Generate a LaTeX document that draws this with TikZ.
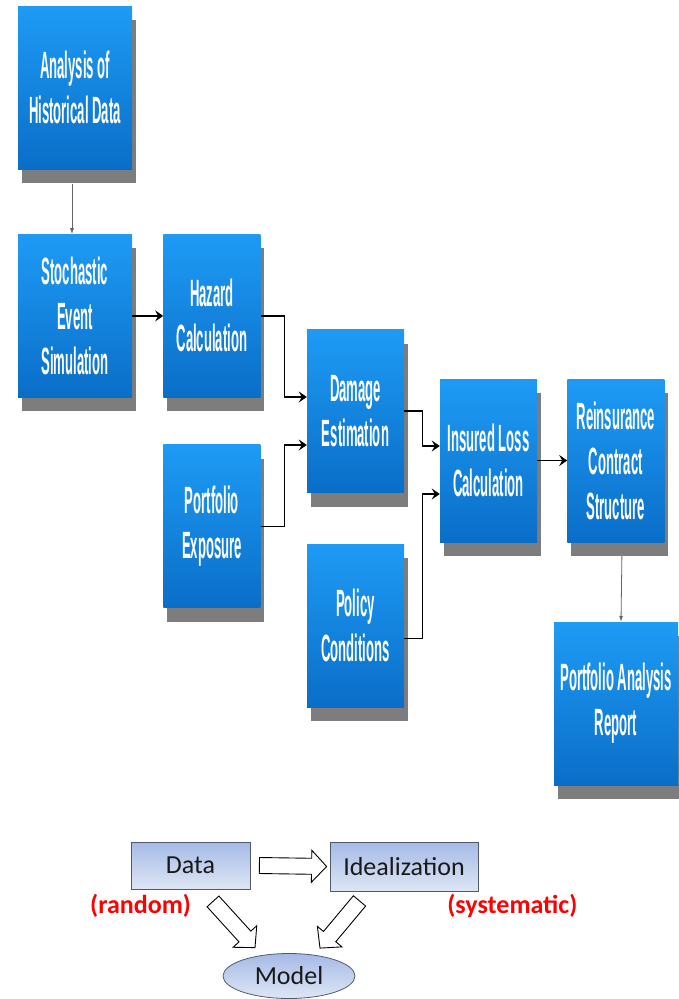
\documentclass[tikz,border=0pt]{standalone}
\usepackage{fontspec}
\setmainfont{Carlito}
\newfontfamily\narrowfont[FakeStretch=0.345]{Liberation Sans}
\usetikzlibrary{calc}
\usetikzlibrary{positioning}
\usetikzlibrary{shadows}
\usetikzlibrary{shapes.geometric}
\usetikzlibrary{arrows.meta}

\definecolor{boxtop}{RGB}{30,155,245}
\definecolor{boxbot}{RGB}{10,110,200}
\definecolor{shadowgray}{RGB}{125,125,125}
\definecolor{paletop}{RGB}{165,186,230}
\definecolor{palebot}{RGB}{222,230,245}
\definecolor{paleline}{RGB}{80,90,110}

\tikzset{
  stage/.style={rectangle,minimum width=97pt,minimum height=163pt,inner sep=0pt,
    top color=boxtop,bottom color=boxbot,text=white,align=center,
    font=\narrowfont\bfseries\fontsize{38}{45}\selectfont,
    drop shadow={shadow xshift=4pt,shadow yshift=-14pt,fill=shadowgray,opacity=1}},
  wide stage/.style={stage,minimum width=114pt},
  flow/.style={draw=black,line width=1.2pt,-{Stealth[length=8pt,width=11pt,inset=3pt]}},
  thin flow/.style={draw=black!60,line width=0.8pt,-{Latex[length=6pt,width=4pt]}},
  pale box/.style={rectangle,draw=paleline,line width=0.8pt,inner sep=0pt,
    top color=paletop,bottom color=palebot,text=black!90,font=\fontsize{26}{30}\selectfont},
  note/.style={text=red,font=\bfseries\fontsize{26}{30}\selectfont},
  hollow/.style={draw=black,line width=0.9pt,fill=white,
    to path={let \p1=(\tikztostart),\p2=(\tikztotarget),
      \n1={atan2(\y2-\y1,\x2-\x1)},\p3=($(\p2)!15pt!(\p1)$) in
      ($(\p1)+({\n1+90}:8pt)$) -- ($(\p3)+({\n1+90}:8pt)$) -- ($(\p3)+({\n1+90}:16pt)$)
      -- (\p2) -- ($(\p3)+({\n1-90}:16pt)$) -- ($(\p3)+({\n1-90}:8pt)$)
      -- ($(\p1)+({\n1-90}:8pt)$) -- cycle}}
}

\begin{document}
\begin{tikzpicture}[x=1pt,y=-1pt]
\useasboundingbox (0,0) rectangle (679,999);

% loss model chain
\node[wide stage] (hist) at (75,87.5) {Analysis of\\Historical Data};
\node[wide stage,below=65pt of hist] (stoch) {Stochastic\\Event\\Simulation};
\node[stage,right=31pt of stoch] (hazard) {Hazard\\Calculation};
\node[stage,below=47pt of hazard] (expo) {Portfolio\\Exposure};
\node[stage] (damage) at (355.5,411) {Damage\\Estimation};
\node[stage] (policy) at (355.5,625.5) {Policy\\Conditions};
\node[stage] (insured) at (488.5,460.5) {Insured Loss\\Calculation};
\node[stage,right=30pt of insured] (reins) {Reinsurance\\Contract\\Structure};
\node[stage,minimum width=124pt] (report) at (616,703.5) {Portfolio Analysis\\Report};

\draw[thin flow] ($(hist.south)+(-3,15)$) -- ($(stoch.north)+(-3,0)$);
\draw[flow] (stoch.east) -- (hazard.west);
\draw[flow] (hazard.east) -- ++(24,0) |- ($(damage.west)+(0,-14)$);
\draw[flow] (expo.east) -- ++(24,0) |- ($(damage.west)+(0,34)$);
\draw[flow] (damage.east) -- ++(18,0) |- ($(insured.west)+(0,-14.5)$);
\draw[flow] ($(policy.east)+(0,13)$) -- ++(18,0) |- ($(insured.west)+(0,33.5)$);
\draw[flow] (insured.east) -- (reins.west);
\draw[thin flow] ($(reins.south)+(6,14)$) -- ($(report.north)+(5,0)$);

% data and idealization
\node[pale box,minimum width=119pt,minimum height=47pt] (data) at (190.5,865.5) {Data};
\node[pale box,minimum width=148pt,minimum height=49pt] (ideal) at (404,866.5) {Idealization};
\node[pale box,ellipse,minimum width=132pt,minimum height=45pt] (model) at (289,976) {Model};
\node[note] (rand) at ($(data.south west)+(10,16)$) {(random)};
\node[note] (syst) at ($(ideal.south east)+(34,14)$) {(systematic)};

\draw[hollow] ($(data.east)+(9,0)$) to ($(ideal.west)+(-3,0)$);
\draw[hollow] ($(data.south)+(22.5,12)$) to ($(model.north)+(-34,-5.5)$);
\draw[hollow] ($(ideal.south)+(-44.5,9.5)$) to ($(model.north)+(31,-5)$);
\end{tikzpicture}
\end{document}
